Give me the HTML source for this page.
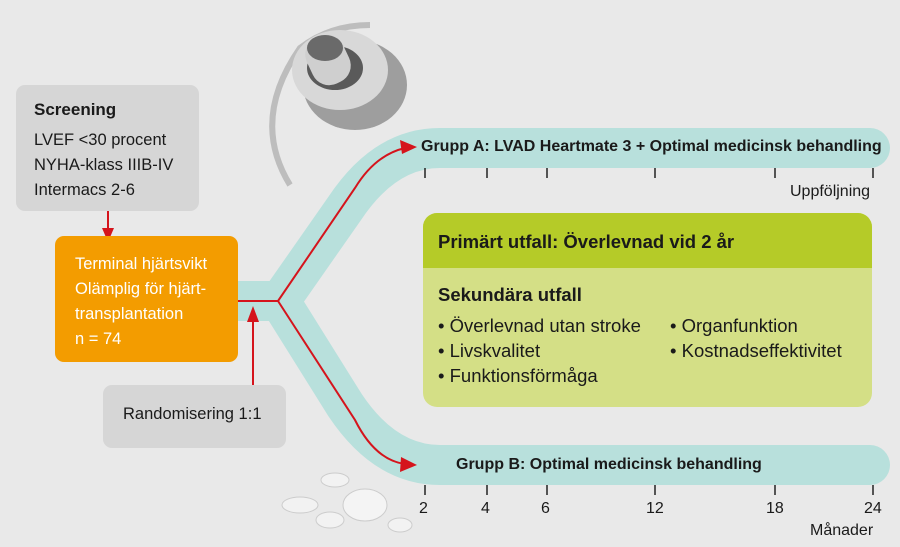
<!DOCTYPE html>
<html><head><meta charset="utf-8"><style>
body{margin:0;width:900px;height:547px;background:#e9e9e9;position:relative;overflow:hidden;font-family:"Liberation Sans Narrow","Liberation Sans",sans-serif;color:#1a1a1a}
.b{position:absolute;border-radius:9px}
.t{position:absolute;white-space:nowrap}
</style></head><body>
<svg width="900" height="547" style="position:absolute;left:0;top:0">
<path d="M290,185 Q250,120 300,48 Q330,25 370,25" fill="none" stroke="#bdbdbd" stroke-width="6"/>
<ellipse cx="355" cy="85" rx="52" ry="45" fill="#9e9e9e"/>
<ellipse cx="340" cy="70" rx="48" ry="40" fill="#d8d8d8"/>
<ellipse cx="335" cy="68" rx="28" ry="22" fill="#5a5a5a"/>
<rect x="308" y="35" width="40" height="50" rx="18" fill="#cfcfcf" transform="rotate(-25 328 60)"/>
<ellipse cx="325" cy="48" rx="18" ry="13" fill="#6a6a6a"/>
<ellipse cx="365" cy="505" rx="22" ry="16" fill="#f4f4f4" stroke="#ccc"/>
<ellipse cx="330" cy="520" rx="14" ry="8" fill="#f2f2f2" stroke="#ccc"/>
<ellipse cx="300" cy="505" rx="18" ry="8" fill="#f2f2f2" stroke="#ccc"/>
<ellipse cx="335" cy="480" rx="14" ry="7" fill="#f2f2f2" stroke="#ccc"/>
<ellipse cx="400" cy="525" rx="12" ry="7" fill="#f2f2f2" stroke="#ccc"/>
<g fill="none" stroke="#b8e0dc" stroke-width="40" stroke-linecap="round" stroke-linejoin="round">
<path d="M238,301 L280,301 L345,208 Q385,148 440,148 L870,148"/>
<path d="M280,301 L345,405 Q385,465 440,465 L870,465"/>
</g>
<rect x="230" y="281" width="20" height="40" fill="#b8e0dc"/>
<g fill="none" stroke="#d5141c" stroke-width="2">
<path d="M238,301 L278,301 L355,188 Q375,155 405,148"/>
<path d="M278,301 L355,420 Q375,460 405,464"/>
<path d="M108,210 L108,232"/>
<path d="M253,385 L253,318"/>
</g>
<g fill="#d5141c">
<path d="M417,147 L400,140 L402,154 Z"/>
<path d="M417,465 L401,457 L400,472 Z"/>
<path d="M108,242 L102,228 L114,228 Z"/>
<path d="M253,306 L247,322 L259,322 Z"/>
</g>
<g stroke="#222" stroke-width="1.5">
<path d="M425,168V178M487,168V178M547,168V178M655,168V178M775,168V178M873,168V178"/>
<path d="M425,485V495M487,485V495M547,485V495M655,485V495M775,485V495M873,485V495"/>
</g>
</svg>
<div class="b" style="left:16px;top:85px;width:183px;height:126px;background:#d6d6d6"></div>
<div class="t" style="left:34px;top:100px;font-size:17px;font-weight:bold">Screening</div>
<div class="t" style="left:34px;top:128px;font-size:16.5px;line-height:25px">LVEF &lt;30 procent<br>NYHA-klass IIIB-IV<br>Intermacs 2-6</div>
<div class="b" style="left:55px;top:236px;width:183px;height:126px;background:#f39c00"></div>
<div class="t" style="left:75px;top:252px;font-size:16.5px;line-height:25px;color:#fff">Terminal hjärtsvikt<br>Olämplig för hjärt-<br>transplantation<br>n = 74</div>
<div class="b" style="left:103px;top:385px;width:183px;height:63px;background:#d6d6d6"></div>
<div class="t" style="left:123px;top:405px;font-size:16.5px">Randomisering 1:1</div>
<div class="t" style="left:421px;top:138px;font-size:16px;font-weight:bold">Grupp A: LVAD Heartmate 3 + Optimal medicinsk behandling</div>
<div class="t" style="left:456px;top:456px;font-size:16px;font-weight:bold">Grupp B: Optimal medicinsk behandling</div>
<div class="t" style="left:790px;top:183px;font-size:16px">Uppföljning</div>
<div class="t" style="left:810px;top:522px;font-size:16px">Månader</div>
<div class="t" style="left:419px;top:500px;font-size:16px">2</div>
<div class="t" style="left:481px;top:500px;font-size:16px">4</div>
<div class="t" style="left:541px;top:500px;font-size:16px">6</div>
<div class="t" style="left:646px;top:500px;font-size:16px">12</div>
<div class="t" style="left:766px;top:500px;font-size:16px">18</div>
<div class="t" style="left:864px;top:500px;font-size:16px">24</div>
<div class="b" style="left:423px;top:213px;width:449px;height:194px;background:#d4df86;border-radius:14px;overflow:hidden">
<div style="height:55px;background:#b5cb28"></div></div>
<div class="t" style="left:438px;top:231px;font-size:18.5px;font-weight:bold">Primärt utfall: Överlevnad vid 2 år</div>
<div class="t" style="left:438px;top:284px;font-size:18.5px;font-weight:bold">Sekundära utfall</div>
<div class="t" style="left:438px;top:313px;font-size:18.5px;line-height:25px">• Överlevnad utan stroke<br>• Livskvalitet<br>• Funktionsförmåga</div>
<div class="t" style="left:670px;top:313px;font-size:18.5px;line-height:25px">• Organfunktion<br>• Kostnadseffektivitet</div>
</body></html>
